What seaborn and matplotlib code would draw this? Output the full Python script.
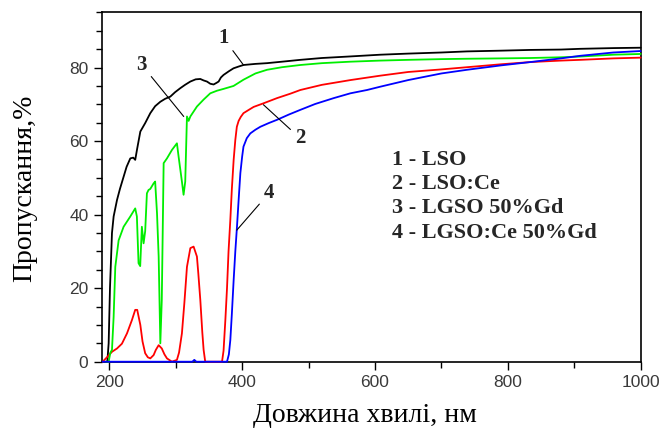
import numpy as np
import pandas as pd
import matplotlib
matplotlib.use("Agg")
import matplotlib.pyplot as plt
from matplotlib.ticker import MultipleLocator
import seaborn as sns

# transmission spectra
lso_x = [195, 197, 199, 201, 204, 206.5, 211.6, 216, 221.5, 226, 231.6, 236, 239, 242,
         246.7, 254, 261.7, 269, 276.8, 284, 291.8, 299, 306.9, 314, 322, 330, 337, 342,
         347, 352, 357, 361, 364.6, 368, 372, 380, 387, 395, 402, 420, 437.5, 460, 487.6,
         520, 560, 608, 650, 700, 738.6, 790, 834, 880, 909, 959, 1000]
lso_y = [0, 0, 5, 20, 35, 39.5, 44, 47, 50.3, 53, 55.3, 55.5, 54.9, 58,
         62.6, 64.9, 67.6, 69.5, 70.7, 71.5, 72.1, 73.3, 74.4, 75.3, 76.2, 76.8, 76.9, 76.5,
         76.2, 75.6, 75.4, 75.8, 76.2, 77.3, 78, 79, 79.8, 80.3, 80.7, 81, 81.2, 81.6, 82.1,
         82.6, 83.0, 83.5, 83.8, 84.1, 84.4, 84.6, 84.8, 84.9, 85.1, 85.3, 85.4]

lso_ce_x = [190, 198, 204, 211.6, 219, 226.6, 234, 239, 242, 246.7, 250, 254, 258, 261.7,
            266.7, 270, 274.3, 279, 283, 286.8, 294.3, 301.8, 305, 309.3, 313, 316.9, 322,
            326.9, 331.9, 334, 337, 340, 342, 344.4, 369.7, 372, 374.7, 377.2, 379.5, 382.2,
            384.5, 387.2, 389.7, 392, 394.7, 398, 402, 410, 417.3, 432.4, 452.6, 472.6, 487.6,
            520, 563, 608, 650, 700, 738.6, 790, 834, 880, 909, 959, 1000]
lso_ce_y = [0, 1.5, 2.7, 3.6, 4.9, 7.7, 11.3, 14.1, 14.1, 10, 5.5, 2.3, 1.2, 0.9,
            1.8, 3.2, 4.5, 3.6, 2, 0.9, 0, 0.5, 2.5, 7.7, 16, 25.8, 30.9,
            31.3, 28.6, 24, 16.8, 8, 3.2, 0, 0, 3, 11.3, 20, 30, 38.6,
            47, 54.9, 60.3, 63.9, 65.5, 66.6, 67.6, 68.5, 69.3, 70.3, 71.7, 72.9, 73.9,
            75.3, 76.6, 77.8, 78.8, 79.5, 80.1, 80.9, 81.5, 81.9, 82.1, 82.5, 82.7]

lgso_x = [195, 199, 201.6, 204, 206.5, 209, 214, 221.5, 231.6, 239, 241.5, 244, 246.5, 249,
          251.6, 254, 256.6, 259, 261.7, 266.7, 269, 271.8, 274.3, 276.8, 279, 281.8, 286.8,
          294.3, 301.8, 304.3, 309.3, 311.8, 314.3, 316.9, 319.4, 322, 331.9, 342, 352, 362,
          372, 387, 402, 420, 437.5, 460, 487.6, 520, 563, 608, 650, 700, 738.6, 790, 834,
          880, 909, 959, 1000]
lgso_y = [0, 0, 2.5, 3.2, 12.2, 25.8, 33, 36.7, 39.5, 41.7, 39.5, 26.8, 26, 36.7,
          32.2, 35.5, 45.8, 46.7, 47, 48.5, 49, 40.4, 28.6, 5, 16.8, 54, 55.3,
          57.6, 59.4, 55.8, 49, 45.4, 49, 66.7, 65.5, 66.7, 69.4, 71.3, 73, 73.7,
          74.2, 75, 76.7, 78.4, 79.4, 80.1, 80.7, 81.2, 81.6, 81.9, 82.1, 82.3, 82.4, 82.5, 82.6,
          82.8, 83.0, 83.5, 83.7]

lgso_ce_x = [190, 325, 328, 331, 377.2, 380, 382.2, 384.5, 387.2, 389.7, 392.2, 394.7, 397.3,
             400, 402, 407, 412.3, 420, 427.4, 440, 452.6, 470, 487.6, 510, 538, 563, 588,
             608, 650, 700, 738.6, 790, 834, 880, 909, 959, 1000]
lgso_ce_y = [0, 0, 0.5, 0, 0, 2, 5.9, 13, 22.2, 30, 36.7, 44, 51.3,
             55.8, 58.5, 60.8, 62.1, 63.1, 63.9, 64.9, 65.8, 67.2, 68.5, 70.1, 71.7, 73, 73.9,
             74.8, 76.6, 78.4, 79.4, 80.6, 81.5, 82.5, 83.2, 84.1, 84.5]

legend_lines = ["1 - LSO", "2 - LSO:Ce", "3 - LGSO 50%Gd", "4 - LGSO:Ce 50%Gd"]

sns.set_style("ticks")
plt.rcParams['font.family'] = ['Liberation Sans', 'DejaVu Sans']

fig = plt.figure(figsize=(6.65, 4.36), dpi=100)
ax = fig.add_axes([0.1529, 0.1704, 0.811, 0.8028])

series = [(lso_x, lso_y, "#000000"), (lso_ce_x, lso_ce_y, "#ff0000"),
          (lgso_x, lgso_y, "#00ee00"), (lgso_ce_x, lgso_ce_y, "#0000ff")]
for xs, ys, col in series:
    sns.lineplot(x=xs, y=ys, color=col, lw=1.3, estimator=None, sort=False,
                 ax=ax, clip_on=False, zorder=3)

ax.set_xlim(188.5, 1000.5)
ax.set_ylim(0, 95.2)
ax.xaxis.set_major_locator(MultipleLocator(200))
ax.xaxis.set_minor_locator(MultipleLocator(100))
ax.yaxis.set_major_locator(MultipleLocator(20))
ax.yaxis.set_minor_locator(MultipleLocator(5))
ax.tick_params(which='major', length=6, width=1, color='black', labelsize=12.5,
               labelcolor='#3a3a3a', direction='out')
ax.tick_params(which='minor', length=4, width=1, color='black', direction='out')
for sp in ax.spines.values():
    sp.set_visible(True)
    sp.set_color('black')
    sp.set_linewidth(1.2)

serif = ['Liberation Serif', 'DejaVu Serif']
ax.set_xlabel("Довжина хвилі, нм", family=serif, fontsize=20, color='black')
ax.set_ylabel("Пропускання,%", family=serif, fontsize=20, color='black')
ax.xaxis.set_label_coords(0.488, -0.118)
ax.yaxis.set_label_coords(-0.12, 0.495)

for i, txt in enumerate(legend_lines):
    ax.text(625, 54.9 - 6.6 * i, txt, family=serif, fontsize=16,
            fontweight='bold', va='center', ha='left')

# numbered leader labels
labels = [("1", (372, 88), (402, 80.7)), ("3", (249, 80.7), (312, 66.7)),
          ("2", (487, 60.8), (432, 69.9)), ("4", (440, 45.8), (392, 35.8))]
for num, txy, pxy in labels:
    ax.annotate(num, xy=pxy, xytext=txy, family=serif, fontsize=15,
                fontweight='bold', ha='center', va='center',
                arrowprops=dict(arrowstyle='-', color='black', lw=0.8,
                                shrinkA=1, shrinkB=0))

fig.savefig("out.png", dpi=100)
